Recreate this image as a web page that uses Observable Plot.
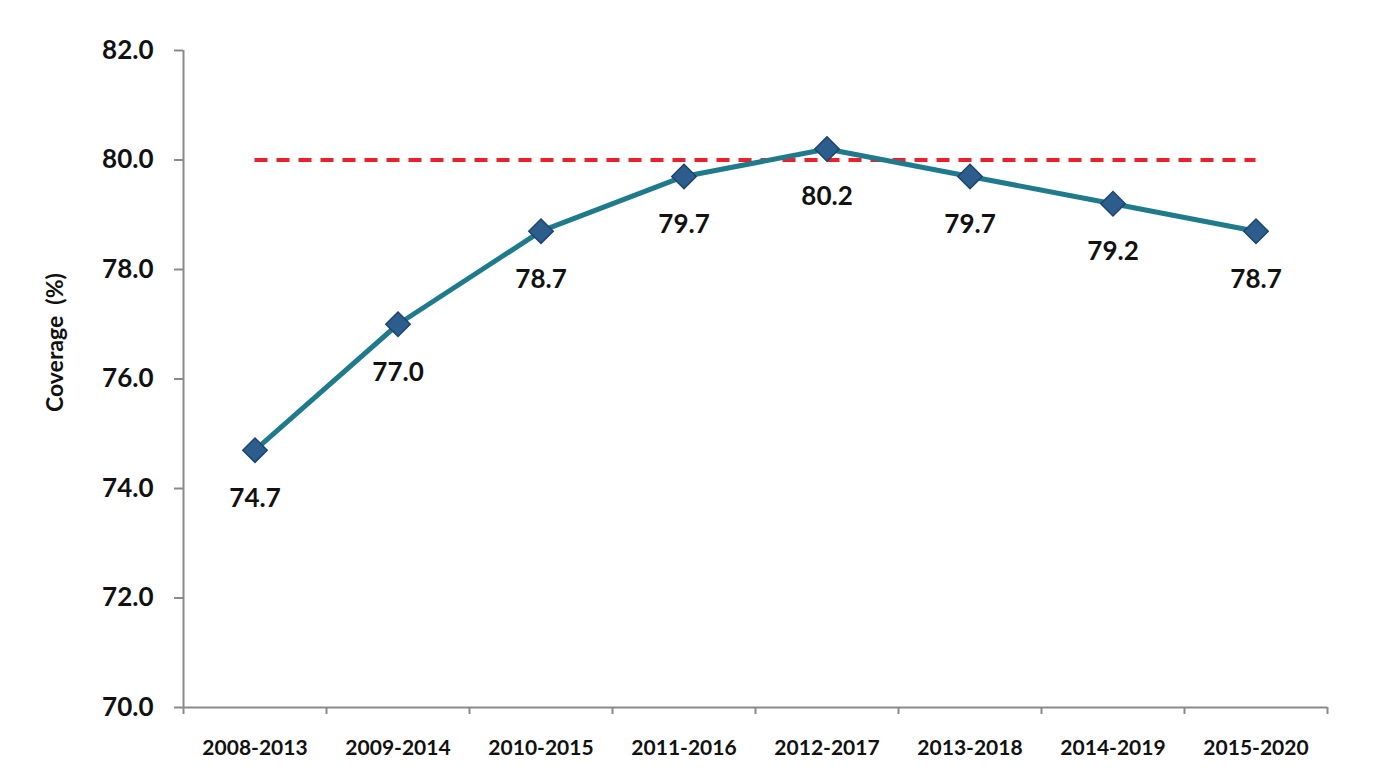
<!DOCTYPE html>
<html>
<head>
<meta charset="utf-8">
<script src="https://cdn.jsdelivr.net/npm/d3@7"></script>
<script src="https://cdn.jsdelivr.net/npm/@observablehq/plot@0.6"></script>
<style>
  html, body { margin: 0; padding: 0; background: #fff; }
  #chart svg { display: block; }
</style>
</head>
<body>
<div id="chart"></div>
<script>
const periods = ["2008-2013","2009-2014","2010-2015","2011-2016","2012-2017","2013-2018","2014-2019","2015-2020"];
const coverage = [74.7, 77.0, 78.7, 79.7, 80.2, 79.7, 79.2, 78.7];
const target = 80;
const yTicks = [70, 72, 74, 76, 78, 80, 82];

const data = periods.map((p, i) => ({i, period: p, value: coverage[i]}));
const idx = periods.map((_, i) => i);
const bounds = [-0.5, ...idx.map(i => i + 0.5)];

const font = "Lato, 'Open Sans', sans-serif";

const chart = Plot.plot({
  width: 1396,
  height: 782,
  marginLeft: 183,
  marginRight: 69,
  marginTop: 50,
  marginBottom: 75,
  style: {fontFamily: font, fontWeight: "bold", color: "#111", background: "#fff"},
  x: {type: "linear", domain: [-0.5, periods.length - 0.5]},
  y: {domain: [70, 82]},
  marks: [
    Plot.axisY({ticks: yTicks, tickFormat: d => d.toFixed(1), tickSize: 9, tickPadding: 21,
      fontSize: 26, stroke: "#8a8a8a", strokeWidth: 2, label: null}),
    Plot.ruleX([-0.5], {stroke: "#8a8a8a", strokeWidth: 2}),
    Plot.axisX({ticks: bounds, tickFormat: () => "", tickSize: 7, stroke: "#8a8a8a", strokeWidth: 2, label: null}),
    Plot.axisX({ticks: idx, tickFormat: i => periods[i], tickSize: 0, tickPadding: 33, fontSize: 21, label: null}),
    Plot.ruleY([70], {stroke: "#8a8a8a", strokeWidth: 2}),
    Plot.text(["Coverage  (%)"], {frameAnchor: "left", dx: -128, rotate: -90, fontSize: 23, fontWeight: "bold", dy: 33}),
    Plot.ruleY([target], {x1: 0, x2: periods.length - 1, stroke: "#e8222b", strokeWidth: 4, strokeDasharray: "13,9"}),
    Plot.line(data, {x: "i", y: "value", stroke: "#1f7a8c", strokeWidth: 5}),
    Plot.dot(data, {x: "i", y: "value", symbol: "diamond2", r: 11, fill: "#2d5d8c", stroke: "#1d4570", strokeWidth: 1.5}),
    Plot.text(data, {x: "i", y: "value", text: d => d.value.toFixed(1), dy: 48, fontSize: 26, fontWeight: "bold", fill: "#111"})
  ]
});
document.getElementById("chart").append(chart);
</script>
</body>
</html>
